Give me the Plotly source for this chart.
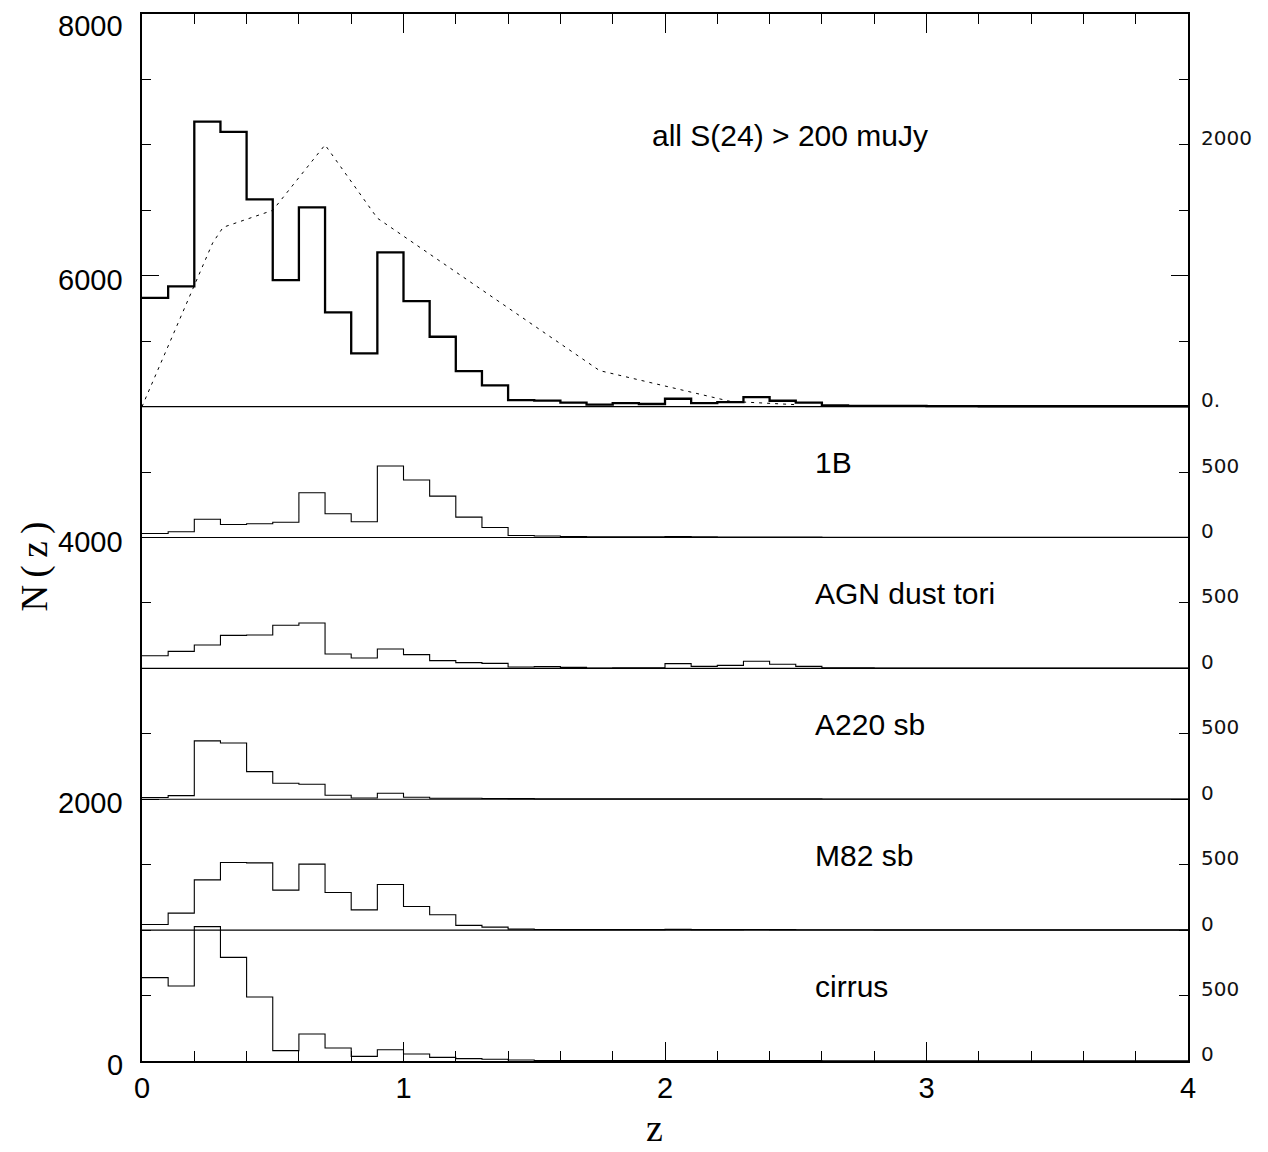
import plotly.graph_objects as go

# bin edges 0..4 step 0.1 (40 bins)
bin_edges = [round(i * 0.1, 1) for i in range(41)]

all_s24 = [831, 919, 2177, 2100, 1584, 967, 1522, 720, 407, 1178,
           806, 534, 271, 162, 50, 46, 30, 15, 27, 20,
           60, 27, 35, 72, 45, 30, 10, 6, 5, 5,
           4, 4, 3, 3, 3, 3, 3, 3, 3, 3]
n_1b = [31, 44, 140, 99, 105, 117, 342, 181, 120, 546,
        439, 316, 156, 76, 15, 12, 8, 5, 5, 5,
        8, 5, 3, 3, 3, 3, 2, 2, 2, 2,
        2, 2, 2, 2, 2, 2, 2, 2, 2, 2]
agn_tori = [97, 130, 179, 252, 255, 329, 347, 110, 79, 148,
            105, 59, 44, 38, 10, 13, 8, 3, 5, 5,
            36, 15, 23, 54, 31, 15, 5, 5, 3, 3,
            3, 3, 3, 3, 3, 3, 3, 3, 3, 3]
a220_sb = [13, 28, 446, 430, 211, 122, 115, 31, 10, 46,
           15, 8, 8, 6, 5, 3, 3, 3, 3, 3,
           3, 3, 3, 3, 3, 3, 2, 2, 2, 2,
           2, 2, 2, 2, 2, 2, 2, 2, 2, 2]
m82_sb = [43, 130, 384, 517, 514, 306, 504, 288, 155, 349,
          181, 117, 36, 23, 8, 5, 4, 4, 4, 4,
          6, 4, 4, 5, 4, 3, 3, 3, 2, 2,
          2, 2, 2, 2, 2, 2, 2, 2, 2, 2]
cirrus = [637, 573, 1027, 792, 489, 79, 206, 99, 35, 86,
          53, 28, 18, 13, 8, 4, 3, 3, 3, 3,
          3, 3, 3, 3, 3, 3, 2, 2, 2, 2,
          2, 2, 2, 2, 2, 2, 2, 2, 2, 2]

model_z = [0.0, 0.27, 0.31, 0.5, 0.7, 0.9, 1.75, 2.25, 2.5]
model_n = [0, 1250, 1370, 1500, 2000, 1440, 275, 40, 15]

panel_names = ["all S(24) > 200 muJy", "1B", "AGN dust tori", "A220 sb", "M82 sb", "cirrus"]
panel_data = [all_s24, n_1b, agn_tori, a220_sb, m82_sb, cirrus]

left_ticks = [0, 2000, 4000, 6000, 8000]
x_ticks = [0, 1, 2, 3, 4]

PANEL_H = 1000
n_panels = len(panel_names)
bases = [PANEL_H * (n_panels - 1 - i) for i in range(n_panels)]  # 5000 ... 0

fig = go.Figure()

for i, (name, vals) in enumerate(zip(panel_names, panel_data)):
    base = bases[i]
    ys = [base + v for v in vals] + [base + vals[-1]]
    fig.add_trace(go.Scatter(
        x=bin_edges, y=ys, mode="lines", line_shape="hv",
        line=dict(color="black", width=2.3 if i == 0 else 1.1),
        showlegend=False, hoverinfo="skip"))

# model curve in top panel
fig.add_trace(go.Scatter(
    x=model_z, y=[bases[0] + v for v in model_n], mode="lines",
    line=dict(color="black", width=1, dash="3px,5px"),
    showlegend=False, hoverinfo="skip"))

# panel separators
for b in bases[:-1]:
    fig.add_shape(type="line", xref="paper", yref="y", x0=0, x1=1, y0=b, y1=b,
                  line=dict(color="black", width=1.2))

label_font = dict(family="Liberation Sans, Arial", size=30, color="black")
# panel labels
for i, name in enumerate(panel_names):
    base = bases[i]
    if i == 0:
        fig.add_annotation(x=1.943, y=base + 2075, text=name, xref="x", yref="y",
                           xanchor="left", yanchor="middle", showarrow=False, font=label_font)
    else:
        fig.add_annotation(x=2.565, y=base + 570, text=name, xref="x", yref="y",
                           xanchor="left", yanchor="middle", showarrow=False, font=label_font)

# right-side per-panel scale labels
right_font = dict(family="DejaVu Sans", size=20, color="#111")
for i in range(n_panels):
    base = bases[i]
    if i == 0:
        labs = [(0, "0."), (2000, "2000")]
    else:
        labs = [(0, "0"), (500, "500")]
    for v, t in labs:
        fig.add_annotation(x=1.0105, y=base + v + 50, text=t, xref="paper", yref="y",
                           xanchor="left", yanchor="middle", showarrow=False,
                           font=right_font)

# left tick labels (drawn as text, slightly below the tick as in the original)
tick_font = dict(family="Liberation Sans, Arial", size=29, color="black")
for v in left_ticks:
    if v == max(left_ticks):
        fig.add_annotation(x=-0.0165, y=1, text=str(v), xref="paper", yref="paper",
                           xanchor="right", yanchor="top", yshift=6,
                           showarrow=False, font=tick_font)
    else:
        fig.add_annotation(x=-0.0165, y=v, text=str(v), xref="paper", yref="y",
                           xanchor="right", yanchor="middle", yshift=-4,
                           showarrow=False, font=tick_font)

# axis titles
fig.add_annotation(x=-0.102, y=3780, text="N\u2009(\u2009z\u2009)", xref="paper", yref="y",
                   textangle=-90, xanchor="center", yanchor="middle", showarrow=False,
                   font=dict(family="Liberation Serif, Times New Roman", size=37, color="black"))
fig.add_annotation(x=0.49, y=-0.0855, text="z", xref="paper", yref="paper",
                   xanchor="center", yanchor="bottom", showarrow=False,
                   font=dict(family="Liberation Serif, Times New Roman", size=38, color="black"))

fig.update_xaxes(
    range=[0, 4], tickvals=x_ticks, ticktext=[str(t) for t in x_ticks],
    ticks="inside", ticklen=19, tickwidth=1.2, tickcolor="black",
    minor=dict(dtick=0.2, ticks="inside", ticklen=10, tickwidth=1.2, tickcolor="black"),
    showline=True, linecolor="black", linewidth=1.5, mirror="ticks",
    showgrid=False, zeroline=False,
    tickfont=dict(family="Liberation Sans, Arial", size=29, color="black"),
)
fig.update_yaxes(
    range=[0, 8000], tickvals=left_ticks, showticklabels=False,
    ticks="inside", ticklen=17, tickwidth=1.2, tickcolor="black",
    minor=dict(dtick=500, ticks="inside", ticklen=9, tickwidth=1.2, tickcolor="black"),
    showline=True, linecolor="black", linewidth=1.5, mirror="ticks",
    showgrid=False, zeroline=False,
)

fig.update_layout(
    width=1260, height=1144,
    margin=dict(l=134, r=80, t=6, b=91, autoexpand=False),
    paper_bgcolor="white", plot_bgcolor="white",
)

fig.write_html("out.html")
